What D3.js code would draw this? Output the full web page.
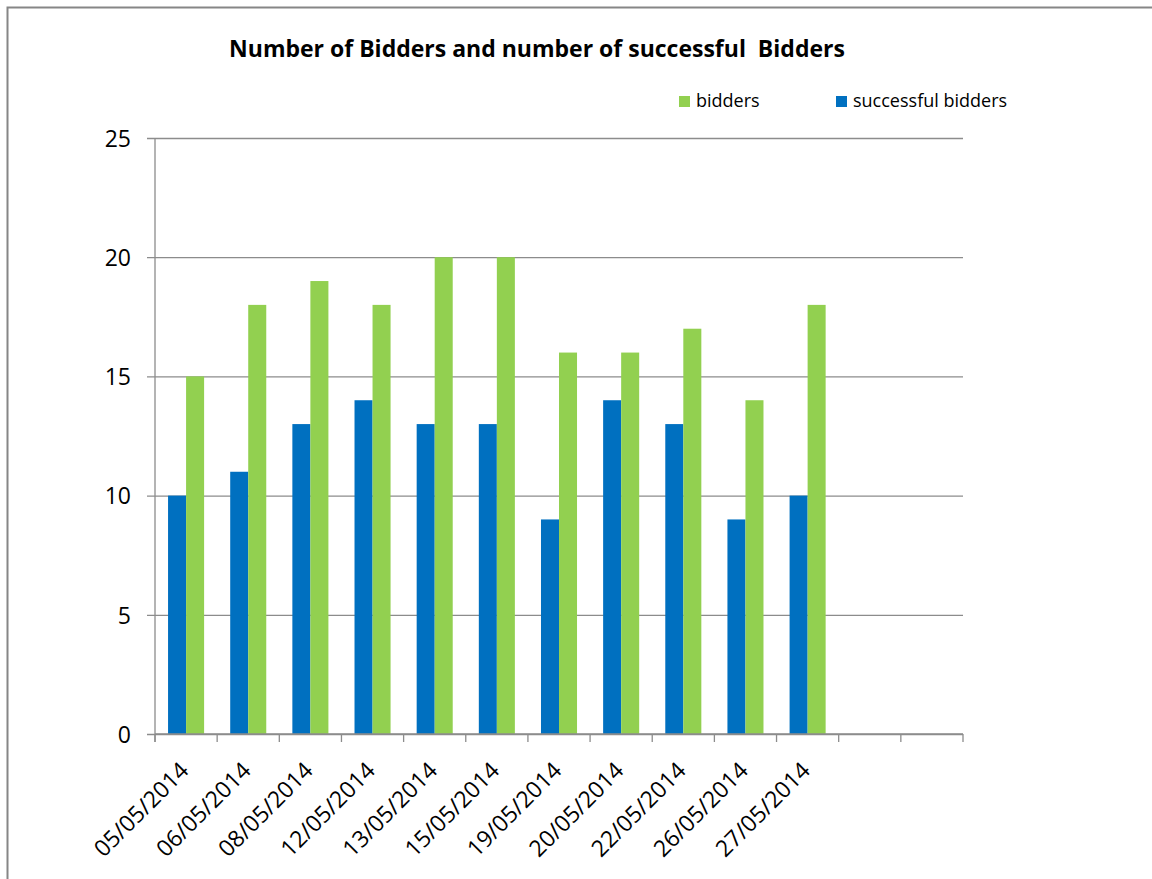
<!DOCTYPE html>
<html>
<head>
<meta charset="utf-8">
<script src="https://cdn.jsdelivr.net/npm/d3@7"></script>
<style>
  html, body { margin: 0; padding: 0; background: #fff; }
  svg { display: block; }
  text { font-family: "Open Sans", "Noto Sans", sans-serif; fill: #000; }
</style>
</head>
<body>
<svg id="chart" width="1152" height="879"></svg>
<script>
// ---- data ----
const categories = ["05/05/2014","06/05/2014","08/05/2014","12/05/2014","13/05/2014","15/05/2014","19/05/2014","20/05/2014","22/05/2014","26/05/2014","27/05/2014"];
const emptySlots = 2;
const bidders = [15,18,19,18,20,20,16,16,17,14,18];
const successfulBidders = [10,11,13,14,13,13,9,14,13,9,10];
const yTicks = [0,5,10,15,20,25];
const seriesNames = ["successful bidders","bidders"];
const legendOrder = ["bidders","successful bidders"];
const titleText = "Number of Bidders and number of successful  Bidders";

// ---- layout ----
const svg = d3.select("#chart");
const W = 1152, H = 879;
const plot = {left: 155, right: 963, top: 138, bottom: 734};
const colors = {"bidders": "#92D050", "successful bidders": "#0070C0"};
const gridColor = "#8c8c8c";

// border (chart area frame; right/bottom edges off-canvas)
svg.append("rect").attr("x", 7.5).attr("y", 7.5).attr("width", W + 20).attr("height", H + 20)
  .attr("fill", "#fff").attr("stroke", "#868686").attr("stroke-width", 2);

const slots = d3.range(categories.length + emptySlots);
const x = d3.scaleBand().domain(slots).range([plot.left, plot.right]).paddingInner(0.42).paddingOuter(0.21);
const xSlot = d3.scaleBand().domain(slots).range([plot.left, plot.right]).padding(0);
const xs = d3.scaleBand().domain(seriesNames).range([0, x.bandwidth()]).padding(0);
const y = d3.scaleLinear().domain([0, 25]).range([plot.bottom, plot.top]);

// gridlines + y axis via d3 axis
const yAxis = d3.axisLeft(y).tickValues(yTicks).tickSize(-(plot.right - plot.left) - 8).tickPadding(16).tickFormat(d3.format("d"));
const gy = svg.append("g").attr("transform", `translate(${plot.right},0)`).call(yAxis);
gy.select(".domain").remove();
gy.selectAll(".tick line").attr("stroke", gridColor).attr("stroke-width", 1.3)
  .attr("x1", plot.left - plot.right - 8).attr("x2", 0);
gy.selectAll(".tick text").attr("x", plot.left - plot.right - 24).attr("dy", "0.36em")
  .style("font-size", "23px").style("font-family", "'Open Sans', sans-serif").attr("fill", "#000");

// left axis line
svg.append("line").attr("x1", plot.left).attr("x2", plot.left).attr("y1", plot.top).attr("y2", plot.bottom + 8)
  .attr("stroke", gridColor).attr("stroke-width", 1.3);

// bars
const rows = categories.map((c, i) => ({i, values: {"successful bidders": successfulBidders[i], "bidders": bidders[i]}}));
const groups = svg.append("g").selectAll("g").data(rows).join("g")
  .attr("transform", d => `translate(${x(d.i)},0)`);
groups.selectAll("rect").data(d => seriesNames.map(k => ({k, v: d.values[k]}))).join("rect")
  .attr("x", d => xs(d.k)).attr("width", xs.bandwidth())
  .attr("y", d => y(d.v)).attr("height", d => y(0) - y(d.v))
  .attr("fill", d => colors[d.k]);

// x axis with ticks at slot boundaries
const boundaries = slots.map(s => xSlot(s)).concat([plot.right]);
const gx = svg.append("g");
gx.append("line").attr("x1", plot.left).attr("x2", plot.right).attr("y1", plot.bottom).attr("y2", plot.bottom)
  .attr("stroke", gridColor).attr("stroke-width", 1.3);
gx.selectAll("line.tk").data(boundaries).join("line").attr("class", "tk")
  .attr("x1", d => d).attr("x2", d => d).attr("y1", plot.bottom).attr("y2", plot.bottom + 8)
  .attr("stroke", gridColor).attr("stroke-width", 1.3);
gx.selectAll("text").data(categories).join("text")
  .attr("transform", (d, i) => `translate(${xSlot(i) + xSlot.bandwidth() / 2 + 4},${plot.bottom + 38}) rotate(-45)`)
  .attr("text-anchor", "end")
  .style("font-size", "23px")
  .text(d => d);

// title
svg.append("text").attr("x", 537).attr("y", 57).attr("text-anchor", "middle")
  .style("font-size", "23px").style("font-weight", "bold").style("white-space", "pre")
  .text(titleText);

// legend
const legendX = [679, 836];
const lg = svg.append("g").selectAll("g").data(legendOrder).join("g")
  .attr("transform", (d, i) => `translate(${legendX[i]},96)`);
lg.append("rect").attr("width", 11).attr("height", 11).attr("fill", d => colors[d]);
lg.append("text").attr("x", 17).attr("y", 11).style("font-size", "18px").text(d => d);
</script>
</body>
</html>
